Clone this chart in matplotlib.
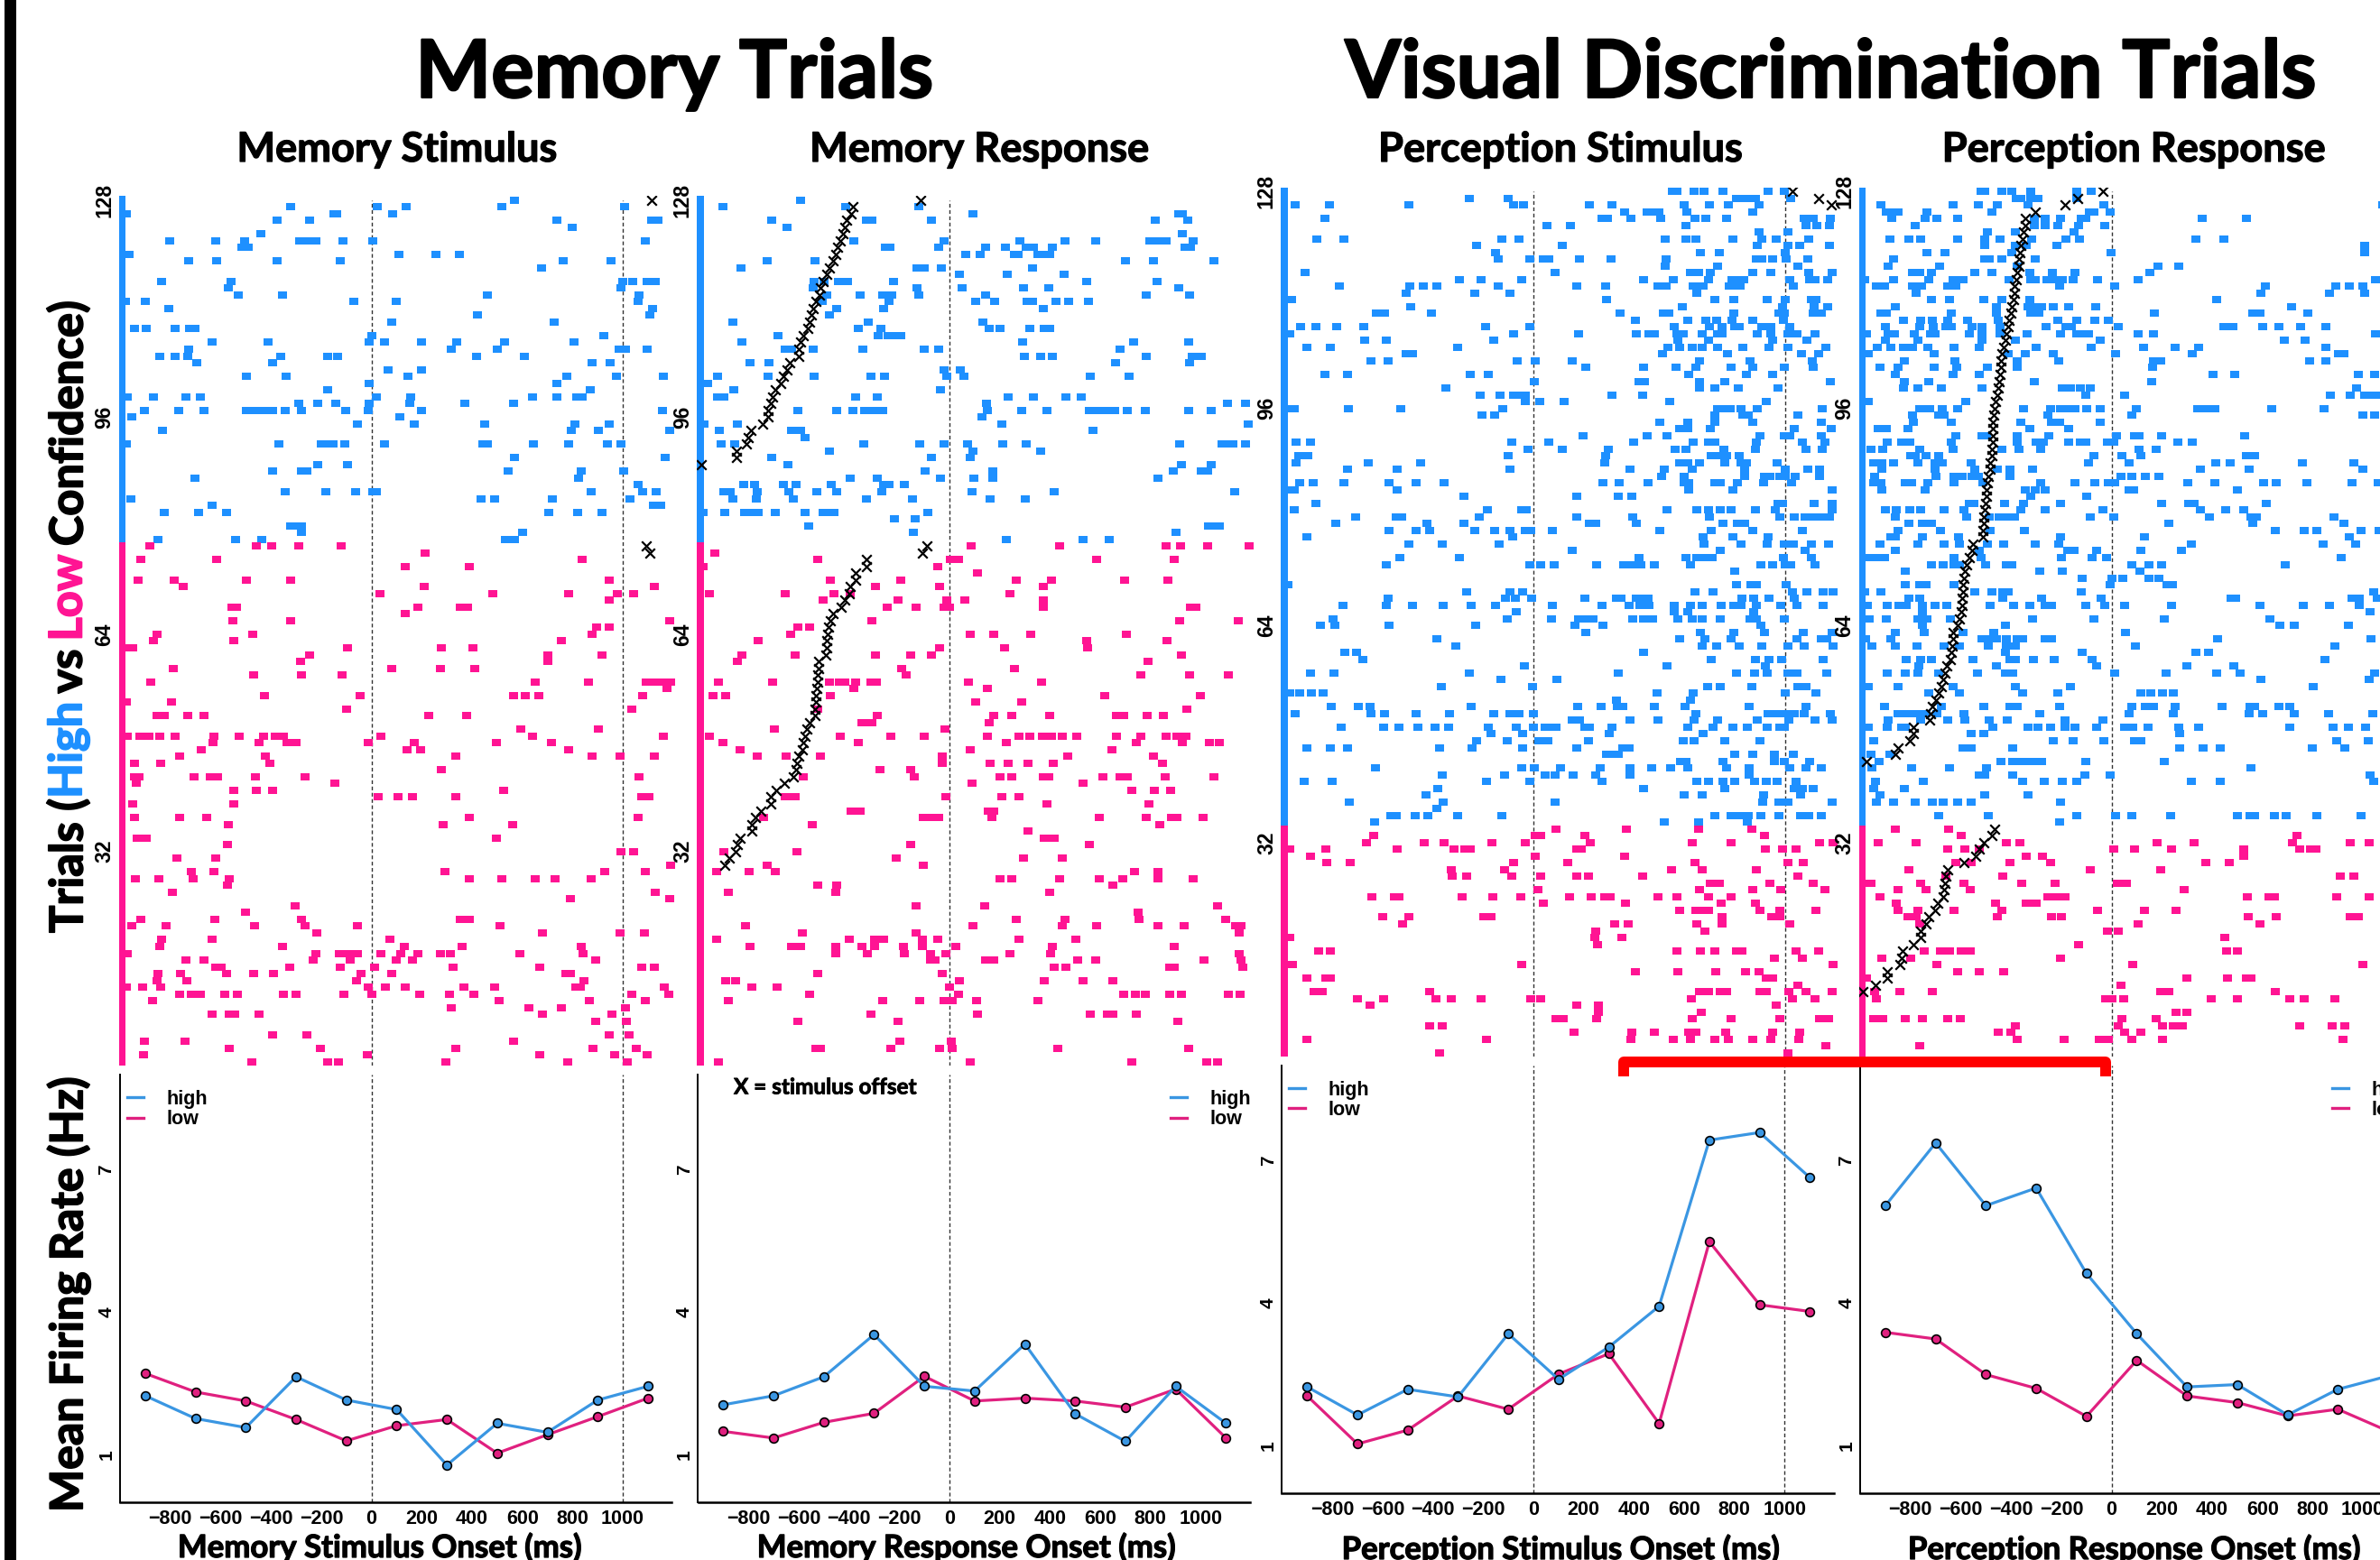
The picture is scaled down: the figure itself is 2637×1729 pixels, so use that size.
import matplotlib
matplotlib.use("Agg")
import matplotlib.pyplot as plt
import matplotlib.patheffects as pe
from matplotlib.lines import Line2D
from matplotlib.patches import Rectangle

W, H = 2637, 1729

BLUE = "#1e90ff"
PINK = "#ff1493"
LINE_BLUE = "#3a96e2"
LINE_PINK = "#e0207f"

# firing rate curves, bin centres in ms, rates in Hz
bin_ms = [-900, -700, -500, -300, -100, 100, 300, 500, 700, 900, 1100]
mem_stim_high = [2.24, 1.76, 1.57, 2.64, 2.15, 1.95, 0.78, 1.66, 1.47, 2.15, 2.44]
mem_stim_low = [2.71, 2.32, 2.13, 1.74, 1.29, 1.61, 1.74, 1.03, 1.42, 1.80, 2.19]
mem_resp_high = [2.05, 2.24, 2.64, 3.53, 2.44, 2.34, 3.33, 1.86, 1.28, 2.44, 1.66]
mem_resp_low = [1.49, 1.35, 1.68, 1.87, 2.65, 2.13, 2.19, 2.13, 2.00, 2.38, 1.35]
per_stim_high = [2.23, 1.64, 2.18, 2.02, 3.35, 2.39, 3.07, 3.93, 7.43, 7.59, 6.64]
per_stim_low = [2.04, 1.03, 1.32, 2.04, 1.76, 2.50, 2.93, 1.46, 5.29, 3.96, 3.82]
per_resp_high = [6.05, 7.37, 6.05, 6.42, 4.62, 3.35, 2.23, 2.28, 1.64, 2.18, 2.46]
per_resp_low = [3.38, 3.24, 2.49, 2.20, 1.61, 2.79, 2.04, 1.90, 1.62, 1.76, 1.30]

# stimulus offset per trial (ms)
mem_stim_offset = {128: 1115, 77: 1092, 76: 1109}
mem_resp_offset = {128: -115, 127: -385, 126: -390, 125: -408, 124: -417, 123: -425, 122: -434, 121: -444,
    120: -453, 119: -462, 118: -476, 117: -488, 116: -503, 115: -515, 114: -518, 113: -533, 112: -541,
    111: -548, 110: -556, 109: -564, 108: -582, 107: -594, 106: -598, 105: -601, 104: -635, 103: -647,
    102: -662, 101: -672, 100: -692, 99: -704, 98: -710, 97: -722, 96: -722, 95: -745, 94: -790, 93: -801,
    92: -807, 91: -848, 90: -848, 89: -987, 77: -91, 76: -107, 75: -332, 74: -332, 73: -375, 72: -375,
    71: -394, 70: -397, 69: -415, 68: -432, 67: -462, 66: -473, 65: -480, 64: -483, 63: -487, 62: -490,
    61: -493, 60: -521, 59: -521, 58: -524, 57: -526, 56: -527, 55: -530, 54: -532, 53: -536, 52: -536,
    51: -556, 50: -568, 49: -576, 48: -583, 47: -586, 46: -601, 45: -607, 44: -609, 43: -620, 42: -656,
    41: -690, 40: -710, 39: -710, 38: -749, 37: -772, 36: -787, 35: -787, 34: -833, 33: -843, 32: -851,
    31: -876, 30: -893}
per_stim_offset = {128: 1031, 127: 1134, 126: 1184}
per_resp_offset = {128: -33, 127: -135, 126: -185, 125: -304, 124: -343, 123: -345, 122: -350, 121: -354,
    120: -360, 119: -364, 118: -367, 117: -368, 116: -374, 115: -379, 114: -385, 113: -388, 112: -391,
    111: -398, 110: -402, 109: -407, 108: -413, 107: -417, 106: -421, 105: -431, 104: -438, 103: -439,
    102: -442, 101: -445, 100: -447, 99: -450, 98: -455, 97: -462, 96: -467, 95: -470, 94: -471, 93: -471,
    92: -473, 91: -474, 90: -475, 89: -477, 88: -482, 87: -485, 86: -491, 85: -493, 84: -498, 83: -498,
    82: -500, 81: -506, 80: -510, 79: -510, 78: -512, 77: -512, 76: -552, 75: -556, 74: -567, 73: -577,
    72: -584, 71: -587, 70: -591, 69: -591, 68: -594, 67: -595, 66: -598, 65: -607, 64: -614, 63: -631,
    62: -632, 61: -635, 60: -639, 59: -642, 58: -656, 57: -664, 56: -670, 55: -678, 54: -688, 53: -699,
    52: -713, 51: -719, 50: -723, 49: -788, 48: -788, 47: -803, 46: -848, 45: -862, 44: -976,
    34: -466, 33: -477, 32: -510, 31: -528, 30: -542, 29: -589, 28: -653, 27: -658, 26: -664, 25: -667,
    24: -670, 23: -691, 22: -702, 21: -726, 20: -737, 19: -761, 18: -761, 17: -788, 16: -830, 15: -834,
    14: -841, 13: -892, 12: -892, 11: -941, 10: -988}

# spike times per trial (ms)
mem_stim_spikes = {
    128: [567], 127: [-320, 23, 139, 520, 1006], 126: [-975, -151, -137, 85],
    125: [-375, -245, 737, 1115, 1138], 124: [799], 123: [-440],
    122: [-804, -620, -505, -286, -252, -221, -113, 5, 1091], 121: [-517, -491],
    120: [-966, 109, 258, 349], 119: [-727, -615, -375, -125, 762, 952], 118: [678],
    116: [-834, -558, 999, 1038, 1095, 1130], 115: [-571, 994], 114: [-530, -355, 461, 1065],
    113: [-978, -899, -70, 97, 1059], 112: [-807, 1118], 111: [420, 1109], 110: [80, 725],
    109: [-943, -896, -780, -724, -701], 108: [2, 925],
    107: [-633, -411, -9, 50, 198, 338, 529, 805], 106: [-727, 317, 499, 985, 1011, 1095],
    105: [-842, -780, -731, -360, -174, -136, 417, 609], 104: [-694, -393, 878, 949], 103: [66, 198],
    102: [-497, -341, 144, 778, 976, 1160], 101: [-9, 736], 100: [-174, 869],
    99: [-972, -866, -739, -680, 18, 157, 642, 736, 817, 837],
    98: [-289, -213, -142, -8, 154, 373, 564],
    97: [-902, -768, -666, -497, -474, -452, -429, -393, -345, -277, -103, -14, 198, 1156],
    96: [-952, 113], 95: [-56, 171, 450, 811, 944], 94: [-830, 796, 904, 1186],
    92: [-976, -369, -199, -177, -154, -106, 50, 443, 462, 645, 784, 940, 994],
    90: [568, 1170], 89: [-213, -94], 88: [-393, -278, -257, 544, 833, 1005], 87: [-703, 824], 86: [1062],
    85: [-345, -180, -63, 5, 21, 873, 1080, 1133], 84: [-956, 435, 490, 719, 1030], 83: [-633, 1123, 1150],
    82: [-825, -689, -577, 704, 820, 916], 80: [-320, -298, -278], 79: [-277, 601],
    78: [-848, -541, -437, 532, 568],
    77: [-881, -458, -397, -289, -121], 76: [213], 75: [-917, -615, 837], 74: [133, 391],
    72: [-928, -786, -497, -323, 944], 71: [-748, 210, 1127], 70: [35, 484, 784, 979, 1041], 69: [947],
    68: [-556, -538, 183, 354, 381], 67: [136], 66: [-553, -323, 1186], 65: [896, 944],
    64: [-852, -473, 876], 63: [-869, -547, 755], 62: [-967, -949, -94, 277, 403], 61: [-246, 700, 916],
    60: [-283, 700], 59: [-790, 79, 275, 412], 58: [-470, -277, -116],
    57: [-879, 650, 863, 1092, 1123, 1153, 1190], 56: [1176], 55: [-425, -45, 565, 613, 665, 1080],
    54: [-976, -795], 53: [-98, 1035], 52: [-854, -823, -731, -666, 228, 379], 50: [594, 904],
    49: [-970, -920, -884, -842, -780, -627, -526, -431, -384, -351, 38, 642, 1163],
    48: [-629, -447, -335, -299, -14, 171, 497, 716], 47: [-678, 141, 195, 784],
    46: [-763, -422, 337, 876, 988, 1127], 45: [-943, -839, -405], 44: [278],
    43: [-943, -926, -707, -642, -612, -461, -266, 1065], 42: [-934, -145], 41: [-547, -458, -393, 524],
    40: [27, 106, 162, 334, 1074, 1105], 39: [-950, -547], 37: [-944, -763, -657, 388, 1059],
    36: [-568, 286, 562], 34: [-932, -914, -896, 496], 33: [-574], 32: [994, 1041], 31: [-775, -620],
    30: [1190], 29: [-718, -627, 293, 928, 1091],
    28: [-938, -845, -709, -565, 391, 518, 650, 731, 873], 27: [-573], 26: [-792, 1129], 25: [793, 1186],
    24: [-304], 23: [-500], 22: [-917, -623, -280, 352, 391], 21: [-955, -817, -467, -266, -57, 512],
    20: [-216, 681, 988, 1085], 19: [-834, -633, 73], 18: [-842, -354, 130, 361, 836],
    17: [-970, -222, -127, -92, -56, 38, 115, 183, 275, 314, 592, 842],
    16: [-737, -666, -231, -86, 97, 162, 893], 15: [-618, -598, -325, -124, 11, 325, 671, 1074, 1127],
    14: [-848, -760, -576, -470, -390, -41, 82, 772, 790], 13: [-854, -734, -59, 845],
    12: [-976, -911, -839, -14, 57, 134, 369, 490, 813, 831, 1166],
    11: [-765, -718, -680, -583, -533, -351, -301, -109, 2, 192, 311, 406, 1037, 1183],
    10: [-870, 506, 867, 1088], 9: [316, 627, 755, 1011], 8: [-633, -565, -545, -446, 680, 955],
    7: [893, 1015], 5: [-393, -257, 946, 1026], 4: [-902, -743, 564], 3: [-565, -204, 335, 882, 1053],
    2: [-908, -15, 668, 966, 1097], 1: [-476, -175, -133, 296, 781, 1018],
}

mem_resp_spikes = {
    128: [-594], 127: [-901, -412, -121], 126: [94, 913, 928], 125: [-709, -332, -310, -73, 817, 947],
    124: [-648], 123: [926], 122: [-379, -23, 280, 459, 580, 796, 831, 863, 969],
    121: [-255, -236, -42, 145, 221, 305, 334, 411, 937, 958], 120: [63, 121, 260, 273, 351, 373, 399],
    119: [-727, -536, 700, 813, 1052], 118: [-830, -131, -101, -32, 332], 117: [38, 231, 455],
    116: [-538, -499, -440, -406, -222, 545, 825], 115: [-541, -131, 50, 296, 396, 913],
    114: [-488, -354, -266, -230, -122, 142, 783, 955], 113: [-506, -242, 103, 180, 308, 331, 425, 473, 553],
    112: [-449, -263, 372], 111: [-479], 110: [-861, -323, 133], 109: [-364, -273, 159, 202, 319, 376, 400],
    108: [-684, -284, -245, -222, -195], 107: [-825, 292, 734, 953],
    106: [-654, -627, -541, -346, -100, -44, 678], 105: [299, 361, 409, 781, 966, 1002],
    104: [-793, -719, 659, 956], 103: [-20, 44], 102: [-922, -721, -538, -314, -257, -11, 59, 559, 715],
    101: [-963], 100: [-857, -36], 99: [-922, -899, -373, -289, 233, 335, 464, 523], 98: [148, 1105, 1179],
    97: [-603, -449, -385, -338, -311, -289, -267, 151, 286, 388, 555, 577, 600, 623, 657, 709, 778, 952, 1041],
    96: [130], 95: [-976, -845, 207, 1188], 94: [-916, -630, -592, 571], 93: [-573],
    92: [-907, -855, -341, -118, -20, 71, 213, 305, 914, 1083, 1106, 1129, 1179], 91: [-479, 95, 361],
    90: [-709, -73, 82], 89: [-641, 922, 1041], 88: [-97, 172, 890, 1003, 1026],
    87: [-394, -287, -36, 97, 172, 831], 86: [-820, -777, -660, -609, -471, -261, -239, -178],
    85: [-896, -873, -765, -638, -529, -449, -269, 89, 416, 1133], 84: [-863, -769, -620, -329, -148, 163, 302],
    82: [-979, -895, -814, -783, -760, -692, -573, -503, -480, -458, -86], 81: [-219, -138],
    80: [-561, 1030, 1053, 1073], 79: [-145, 902], 78: [225, 532, 635],
    77: [86, 437, 860, 920, 1027, 1192], 76: [-934], 75: [-523, 3, 36, 586, 894], 74: [-979, -48], 73: [110],
    72: [-474, -195, 267, 406, 695, 870], 71: [-293, -39, 372], 70: [-955, -654, -459, -395, 242],
    69: [-502, -204, -12, 62, 372], 68: [-249, -134, -23, 0, 372, 959, 982], 66: [-308, 917, 1148],
    65: [-603, -555], 64: [-633, 82, 175, 323, 704], 63: [-763, 545, 867], 62: [-38, 219, 550],
    61: [-827, -615, -296, -153, -73, 923], 60: [-843, 790], 59: [-190, 258], 58: [-171, 762, 954, 1111],
    57: [-920, -704, -477, -438, -417, -372, -311, -290, 77, 366], 56: [-382, 150],
    55: [-940, -890, -474, 617, 997], 54: [103, 286], 53: [-524, 943],
    52: [-289, 175, 246, 400, 663, 694, 787, 851], 51: [-349, -329, -310, 157], 50: [-695, -17],
    49: [-955, -434, -234, -100, 151, 275, 320, 369, 405, 449, 508, 663, 763, 860, 905, 940],
    48: [-901, -361, 228, 743, 925, 1034, 1074], 47: [-833, 82, 645], 46: [-766, -650, -514, -29, 470, 810],
    45: [-29, 163, 234, 311, 414, 848], 44: [-275, -153],
    43: [-583, -140, 202, 246, 375, 396, 612, 677, 707, 857, 1052], 42: [91, 532], 41: [727, 814, 878],
    40: [-654, -633, -615, -15, 207, 276], 39: [388, 792], 38: [-393, -356, 154, 177],
    37: [-740, -103, -73, -42, 169, 595, 781, 882, 904, 1009], 36: [-544, 837], 35: [311],
    34: [378, 397, 416], 33: [-156, 556], 32: [-896, -606], 31: [-212, 295, 450], 30: [-724, -104],
    29: [-926, -796, -692, 736, 828], 28: [202, 246, 437, 597, 690, 828, 968], 27: [-526, -450, 651],
    26: [-881, -453, 400], 24: [-134, 139, 1067], 23: [752], 22: [264, 458, 754, 1097],
    21: [-811, 94, 449, 586, 829, 935, 1138, 1159], 20: [-586, -133, 1151],
    19: [-926, -400, -299, -263, -106, -48, 275, 503],
    18: [-793, -630, -591, -452, -349, -298, -183, -106, 26, 408, 894],
    17: [-452, -325, -181, -74, -14, 240, 402, 1154], 16: [-76, -57, 142, 175, 509, 580, 1014, 1160],
    15: [417, 462, 875, 893, 1166], 14: [-526, -30], 13: [-891, -852, 38, 378, 532, 650], 12: [-787, -686, 0],
    11: [-555, 36, 694, 739, 780, 875, 923, 1108, 1156], 10: [-879, -266, -118, -20, 11, 109, 351],
    8: [-311, 112, 559, 629, 650, 745], 7: [-603, -204, 908], 4: [-198, 8],
    3: [-533, -514, -234, -39, 11, 432, 953], 1: [-919, 83, 724, 1024, 1068],
}

per_stim_spikes = {
    128: [552, 572, 639, 678, 754, 935, 997], 127: [-256, -100, 807, 820, 855, 885, 1024],
    126: [-947, -813, -494, -79, -39, 223, 312, 598, 700, 776, 897], 125: [361, 453, 477, 499, 612, 871],
    124: [-829, 274, 293, 388, 505, 642, 687, 767, 1077, 1114, 1181], 123: [53, 146, 608, 1083, 1126, 1178],
    122: [897, 1011], 121: [-863, -753, -126, -56, 523, 608, 647, 793, 907, 966, 1094],
    120: [-227, 114, 891, 1011, 1058, 1178], 119: [-150, 664, 740, 1003],
    118: [-139, -16, 41, 62, 182, 308, 527, 888, 910, 953, 1006, 1092], 117: [523, 731, 1052],
    116: [-907, 86, 625, 657, 704, 874, 944, 1094, 1187],
    115: [-293, -207, -47, 438, 555, 696, 790, 813, 835, 1019, 1100, 1120, 1170],
    114: [-771, -492, -438, -385, -139, 174, 287, 495, 528, 637, 657, 676, 779, 801, 823, 1033],
    113: [-508, -235, -92, 650], 112: [-961, 290, 721, 796, 929, 1003, 1105, 1125],
    111: [-488, 592, 992, 1116, 1172], 110: [-623, -594, -405, 344, 516, 539, 798, 977, 999, 1112, 1147],
    109: [404, 615, 687, 729, 790, 872, 994],
    108: [-927, -866, -781, -675, -192, -16, 561, 700, 751, 801, 820, 907, 944, 1019],
    107: [-968, -78, 179, 411, 458, 481, 570, 595, 673, 734, 751, 891, 944, 1011, 1048, 1120],
    106: [-670, -586, -157, 575, 698, 953, 1089],
    105: [-901, -807, -301, 534, 583, 633, 672, 732, 834, 938, 1013, 1165],
    104: [-505, -480, 514, 773, 1067, 1134], 103: [-645, -578, -65, 8, 154, 659, 862, 1108],
    102: [209, 438, 567, 648, 785, 874, 997, 1114], 101: [-829, -740, -252, -181, 619, 848, 950],
    100: [3, 419, 442, 662, 760, 1181], 99: [-349, 662, 720, 816, 974], 98: [-212, -134, -79, -56, -34, 312, 435],
    97: [-31, 26, 123, 542, 925], 96: [-972, -952, -737, -528, -122, 732, 757, 782, 827, 890, 1150],
    95: [-203, -153, 723, 832, 855, 1052], 94: [503, 615, 723, 872, 1147], 93: [583, 615, 703, 1038, 1184],
    92: [199, 452, 530, 902, 997, 1019, 1144], 91: [-946, -887, -87, 61, 397, 637, 696, 723, 888, 1070, 1159],
    90: [-22, 115, 299, 564, 608, 757, 885, 1083, 1150], 89: [-932, -897, -100, 287, 707, 731, 767, 820],
    88: [-946, -656, -450, 282, 583, 615, 662, 760, 826, 848, 968],
    87: [-740, -542, -92, 383, 522, 631, 841, 1002, 1092, 1140],
    86: [509, 598, 840, 918, 941, 982, 1003, 1042, 1137],
    85: [-929, -876, -754, -575, -467, -357, 277, 340, 456, 598, 619, 723, 745, 812, 914, 1027],
    84: [-972, -952, -541, 619, 793, 1187], 83: [-277, 174, 337, 393], 82: [-866, 972, 991, 1117, 1187],
    81: [-953, -184, -48, -28, 533, 650, 696, 745, 788, 882, 961, 1187],
    80: [-706, -547, -523, -217, 171, 396, 700, 980, 1036, 1080, 1112, 1140, 1159, 1178],
    79: [-785, -425, -277, 224, 248, 410, 753, 813, 840],
    78: [-576, -466, -413, -235, -154, -92, -34, -12, 76, 503, 706, 871, 1069],
    77: [-902, -84, 676, 793, 935], 76: [-494, -363, -136, 679, 827, 930, 999, 1033, 1105, 1173],
    75: [156, 745, 1081], 74: [-531, -294, 419, 606, 650, 687, 710, 996, 1105],
    73: [-586, -14, 30, 84, 251, 358, 393, 428, 481, 626, 905, 953, 1000, 1022, 1122], 72: [801],
    70: [-975, 807, 866, 886, 1005], 69: [-266, -93, -44, 642, 715, 1031, 1089, 1154, 1193],
    68: [-578, -111, -72, -8, 203, 329, 349, 408, 432, 455, 829, 876, 936, 1036],
    67: [-759, -587, -481, -360, -249, -151, 76, 273, 379, 422, 458, 559, 623, 671, 748, 796, 827, 886, 983, 1047, 1154],
    66: [-69, 559, 615, 876],
    65: [-798, -104, 73, 178, 213, 237, 394, 439, 475, 575, 632, 670, 742, 863, 886, 997],
    64: [-846, -791, -576, -231, 165, 276, 904], 63: [210, 664, 798, 919, 1073, 1190],
    62: [-385, 581, 684, 787, 1049, 1147, 1167], 61: [-310, 673, 729, 818, 907, 1014, 1078, 1192],
    60: [-752, -703, 438], 59: [-679, 707, 883, 936, 986, 1151], 58: [-37, 530, 922],
    57: [-886, -793, -256, 336, 807, 879, 929, 1011, 1047, 1167], 56: [-129, 92],
    55: [-368, -5, 693, 745, 868, 1053, 1084], 54: [-968, -929, -882, -838, 491, 637, 1003, 1123], 53: [330, 625],
    52: [-804, -696, -651, -246, 176, 270, 333, 357, 481, 603, 858, 1083],
    51: [-949, -648, -594, -467, -335, -157, -92, -56, 0, 647, 932, 968, 1000, 1038, 1077, 1183],
    50: [154, 182, 383, 497, 640, 734, 890, 1017, 1122, 1189],
    49: [-765, -597, -534, -461, -391, -337, -178, -69, 0, 45, 69, 89, 204, 224, 312, 615, 714, 793, 851, 930, 980, 997],
    48: [-167, -42, 301, 676], 47: [-226, -103, 20, 59, 218, 595, 640, 763, 902],
    46: [-901, -807, -740, -374, -243, -44, 174, 357, 380], 45: [291, 315, 337, 801, 871, 957, 1033],
    44: [586, 606, 754, 957, 997, 1097],
    43: [-629, -48, 5, 107, 266, 383, 469, 547, 615, 767, 858, 1020, 1083, 1144],
    42: [-363, -114, 48, 87, 159, 249, 383, 858],
    41: [-911, -799, -185, -16, 274, 651, 696, 754, 801, 880, 925, 969, 1045],
    40: [-379, 438, 760, 1039, 1070, 1114], 39: [-428, 600, 670, 914, 1063],
    38: [-731, -360, 87, 911, 975, 996, 1014, 1187], 37: [-385],
    36: [-567, -547, -471, -421, -301, -125, 723, 788, 809, 835, 855, 904, 975, 1063, 1094, 1147],
    35: [-631, 520, 656, 852],
    34: [89, 371, 656, 868], 33: [-634, 6, 30, 206, 921],
    32: [-665, -436, -357, -164, -34, 227, 631, 785, 1140, 1192],
    31: [-971, -826, -541, -316, -274, -251, 174, 190, 922, 991, 1045], 30: [-886, 8, 361],
    29: [-823, -728, -78, 137, 643, 1011, 1072], 28: [-326, -115, 551, 673, 888],
    27: [-323, -266, -86, 28, 174, 220, 433, 1052], 26: [704, 740, 941, 1114], 25: [17, 659, 871, 985, 1159],
    24: [-642, -553, -534, -282, -160, -51, 143, 231, 284, 307, 497, 570, 696, 788],
    23: [41, 368, 748, 883], 22: [583, 645, 664, 696, 902, 980, 1125], 21: [-601, -494, -196, -168, 751, 949, 982],
    20: [-519, 322, 377, 650, 751, 1020], 19: [248, 684], 18: [-971, 245, 351], 17: [254],
    16: [-854, -807, 570, 665, 721, 809, 829, 1044, 1134], 15: [957, 1070], 14: [-975, -960, -48, 1193],
    13: [407, 576, 724, 843, 896], 12: [-902, -827, -809, 925, 953], 11: [1052],
    10: [-872, -841, -414, 659, 696, 742, 767, 902, 925, 1017, 1083, 1187],
    9: [-700, -597, -386, -327, -209, -9, 28, 629, 1031, 1120], 8: [-651, 173, 260, 966], 7: [257, 668],
    6: [89, 118, 251, 631, 785, 982, 1140, 1175], 5: [-414, -361], 4: [160, 390, 481, 619, 645, 765, 950, 1058],
    3: [-902, -185, 386, 556, 626, 721, 776, 874, 944, 1055], 2: [1162], 1: [-375, 1011],
}

per_resp_spikes = {
    128: [-521, -505, -436, -398, -320, -139, -81], 127: [-379, -361, -320, -292, -139],
    126: [-917, -632, -531, -455, -334, -31, 1079],
    125: [-897, -878, -848, -734, -475, -90, -72, -4],
    124: [-876, -741, -695, -614, -306, -265, -202, -122, -104, 361, 535],
    123: [-783, -306, -264, -215, -132, -28], 122: [-493, -381, -149],
    121: [-883, -805, -760, -614, -505, -443, -317, -182, -128, 334, 445], 120: [-505, -381, -339, -217, 1008],
    119: [-734, -664, -398, -3, 1008], 118: [-866, -505, -487, -438, -302], 117: [-890, -684, -375, 186, 268],
    116: [-792, -765, -716, -546, -475, -327, -234, -146, 153],
    115: [-983, -869, -727, -632, -612, -591, -407, -320, -303, -257, -222, -195, -153, -56, 104, 1049],
    114: [-934, -903, -792, -757, -653, -621, -206, 14, 612, 891, 947, 1001], 113: [-778, 594, 865, 1008],
    112: [-717, -644, -510, -435, -327, 417],
    111: [-859, -459, -334, -316, -278, -231, -172, -64, 717],
    110: [-917, -897, -637, -459, -320, -289, 171, 563, 591, 781],
    109: [-828, -758, -713, -653, -573, -452, -215, -139, -67, -14],
    108: [-901, -765, -709, -660, -639, -556, -514, -445, -260, -181, -160, 28, 445, 484, 600, 664, 751, 853],
    107: [-976, -890, -865, -784, -720, -702, -566, -514, -445, -336, -203, -139, -122, -92, 107, 165, 1051],
    106: [-899, -771, -514, -382, -44, 688, 771],
    105: [-931, -878, -828, -791, -731, -627, -525, -299, -81, 128, 254, 345, 851],
    104: [-969, -706, -413, -345, -232, 15, 320, 904, 924],
    103: [-823, -623, -375, -210, 167, 195, 787, 853], 102: [-923, -848, -706, -616, -493, -375, 164],
    101: [-859, -632, -528, 403, 491, 980, 1047], 100: [-824, -727, -307, 158],
    99: [-828, -770, -676, -516, -197, -163, -125, -83, 973], 98: [-104, 51, 870, 949, 1008, 1029, 1049],
    97: [-969, -582],
    96: [-765, -744, -723, -673, -612, -350, -243, -202, -181, -146, -100, -44, 97, 341, 361, 382, 410, 637, 844],
    95: [-792, -687, -667, -253, 82, 998, 1045], 94: [-788, -637, -361, -239, -222, -206, -46],
    93: [-927, -897, -809, -325, -170],
    92: [-619, -517, -498, -375, -250, 21, 90, 108, 199, 530],
    91: [-892, -834, -803, -639, -375, -299, -271, -170, -125, -104, -17, 7, 265, 322],
    90: [-956, -910, -765, -632, -436, -368, -281, 108, 178],
    89: [-799, -781, -737, -688, -72, 40, 118, 538, 570],
    88: [-945, -915, -866, -771, -702, -674, -560, -93, 68, 416, 473, 760, 965],
    87: [-915, -702, -545, -455, -403, -314, 352, 549, 999],
    86: [-942, -699, -626, -595, -556, -531, -403, 38, 79, 136, 189],
    85: [-948, -917, -820, -796, -730, -627, -512, -281, -147, -67, -14, 14, 303, 411, 605, 656, 778, 956, 1059],
    84: [-915, -741, -345, -303, -264, 70, 86, 500], 83: [-320, -99],
    82: [-566, -549, -425, -350, -202, 199, 306, 327, 616],
    81: [-899, -856, -803, -760, -667, -587, -361, -263, -33, 352, 455, 525],
    80: [-862, -578, -487, -449, -424, -403, -386, -86, 7, 389, 553, 577, 883],
    79: [-806, -751, -716, 229, 563, 926], 78: [-848, -681, -482, -346, 653, 766, 817, 994, 1063],
    77: [-878, -862, -753, -609, -202, 131, 945],
    76: [-922, -771, -667, -605, -493, -431, -302, -211, 316, 841, 972],
    75: [-862, -525, -174, -149, -60, 115, 278], 74: [-969, -938, -917, -903, -626, -521, -199, -76, -21, 913],
    73: [-717, -669, -626, -605, -503, -417, -396, 79, 150, 199, 692], 72: [-820, -285, -197, 114],
    71: [-118, 0, 44, 150, 189], 70: [-821, -765, -737, -626, -7, 222, 243],
    69: [-984, -916, -545, -475, -434, -410, -121, 1043],
    68: [-806, -765, -434, -278, -42, 475, 493, 955, 987, 1056],
    67: [-973, -892, -845, -817, -753, -702, -657, -485, -391, -324, -264, -239, -101, -28, 51, 239, 592, 763, 867, 987],
    66: [-751, 1029], 65: [-966, -897, -771, -753, -734, -642, -314, -71, 211, 631],
    64: [-753, -423, 670, 726, 941], 63: [-862, -744, -591, -470, 56],
    62: [-980, -878, -514, -494, -473, -459, -417, -375, -354, -264, -239, 423, 1031],
    61: [-954, -862, -774, -667, -605, -489, -417, -382, 95, 888], 60: [-424, -118, 336, 385],
    59: [-819, -760, -716, -550, -403, -382, -311, -228, -78, 849], 58: [-767, -457, -58, 300, 487],
    57: [-894, -820, -771, -688, -534, -424, -392, 13, 217, 417, 510, 1047], 56: [595, 1026],
    55: [-969, -848, -632, -381, -164, 801], 54: [-726, -605, -354, -215, 118, 156, 204, 247],
    52: [-904, -678, -510, -403, -375, -206, 79, 136, 168, 252, 441, 552, 570, 664, 710],
    51: [-848, -827, -803, -769, -737, -695, -587, -285, 70, 247, 548, 600, 727, 862, 1040],
    50: [-890, -758, -653, -584, -487, -414, -185, -35],
    49: [-969, -894, -834, -820, -473, -334, -292, -243, -185, -145, -58, 53, 83, 145, 268, 345, 708, 880, 941, 1011],
    48: [-559, -510, 271], 47: [-948, -231, -154, -31, 90, 118, 897, 1022],
    46: [-591, -560, -393, 272, 364, 431, 798, 929], 45: [-959, -883],
    44: [-924, -442, -393, -359, -320, -299, -278, -101, 211], 43: [-955, -794, -645, -498, 555],
    42: [-528, -505, -393, -108, -7, 1029], 41: [-938, -749, -354, -268, -197, -139, 318, 431, 1043],
    40: [-948, -823], 39: [-920, -505, -332], 38: [-937, -869, -783, -712, -671, -612, -559, -202],
    36: [-689, -491, -139, 17, 79, 234, 502, 552, 570, 646, 695, 815, 992], 35: [-207],
    34: [-860, -648], 33: [-599, 738], 32: [-927, -776, -418, -364, 181, 328, 720, 949, 1026],
    31: [-651, -584, -528, 8, 92, 239, 524, 747, 792, 813], 30: [-338, -274, 524],
    29: [-621, -559, -403, -242, 374, 468], 28: [-806, -86, 196], 27: [-658, -434, 910, 965],
    26: [-973, -959, -760, -589, -357, -225, 24, 58], 25: [-848, -737, -562, 288],
    24: [-922, -252, -222, -202, -185, 539, 626, 646, 897, 1024], 23: [-856, -461, -341, -320, -299],
    22: [-850, -771, -627, -436, -56, 131, 257], 21: [-809, -776, -456, -238, -200, 545, 655, 949, 980],
    20: [-765, 104, 592], 19: [-18, 28], 18: [450], 17: [-132], 16: [-744, -681, -646, -598, -563, 457, 502],
    15: [-915, -799, -203], 14: [-694, 83, 999], 13: [-613, -528, -430], 12: [-977, 300, 460, 535, 553],
    11: [36], 10: [-942, -844, -714, 195, 229, 653], 9: [-937, -24, 0, 49, 396, 500, 708, 767, 887],
    7: [257, 300], 6: [-945, -910, -820, -753, -651, -602, 42, 178],
    5: [-382, 28, 202, 247, 282, 748, 877, 927], 4: [-450, -399, 50, 115],
    3: [-375, -190, -50, -14, 82, 202, 919], 2: [-764],
}

trial_ticks = [32, 64, 96, 128]
rate_ticks = [1, 4, 7]
time_ticks = list(range(-800, 1001, 200))


def px_axes(fig, left, top, right, bottom):
    return fig.add_axes([left / W, 1 - bottom / H, (right - left) / W, (bottom - top) / H])


def heavy(color="black", w=0.9):
    # Lato bold is a bit thin next to the original font
    return [pe.withStroke(linewidth=w, foreground=color)]


def ftext(fig, x, y, s, **kw):
    return fig.text(x / W, 1 - y / H, s, **kw)


def raster(fig, zero_px, top, bottom, spikes, offsets, split, offset_line):
    ax = px_axes(fig, zero_px + XL * MS_PX, top, zero_px + XR * MS_PX, bottom)
    ax.set_xlim(XL, XR)
    ax.set_ylim(0.45, 128.6)
    for trial, times in spikes.items():
        color = BLUE if trial > split else PINK
        ax.scatter(times, [trial] * len(times), s=42, marker=SPIKE_MARK, color=color, linewidths=0, zorder=2)
    ax.fill_between([XL, XL + 27], 0.45, split, color=PINK, lw=0, zorder=3)
    ax.fill_between([XL, XL + 27], split, 128.6, color=BLUE, lw=0, zorder=3)
    ax.axvline(0, color="#333333", lw=1, ls=(0, (3, 2)), ymax=0.995, zorder=1)
    if offset_line:
        ax.axvline(1000, color="#333333", lw=1, ls=(0, (3, 2)), ymax=0.995, zorder=1)
    ax.scatter(list(offsets.values()), list(offsets.keys()), marker="x", s=58, color="black", linewidths=1.6, zorder=4)
    for s in ax.spines.values():
        s.set_visible(False)
    ax.set_xticks([])
    ax.set_yticks(trial_ticks)
    ax.tick_params(axis="y", length=0, pad=3, labelrotation=90)
    for t in ax.get_yticklabels():
        t.set_fontsize(16.5)
        t.set_fontweight("bold")
        t.set_family("Liberation Sans")
        t.set_va("center")
    ax.patch.set_alpha(0)
    return ax


def rates(fig, zero_px, top, bottom, high, low, offset_line, leg_x):
    ax = px_axes(fig, zero_px - 1000 * MS_PX, top, zero_px + 1195 * MS_PX, bottom)
    ax.set_xlim(-1000, 1195)
    ax.set_ylim(0, 9)
    ax.axvline(0, color="#333333", lw=1, ls=(0, (3, 2)), zorder=1)
    if offset_line:
        ax.axvline(1000, color="#333333", lw=1, ls=(0, (3, 2)), zorder=1)
    ax.plot(bin_ms, low, color=LINE_PINK, lw=2.3, marker="o", ms=7, mfc=LINE_PINK, mec="black", mew=1.2, label="low", zorder=3)
    ax.plot(bin_ms, high, color=LINE_BLUE, lw=2.3, marker="o", ms=7, mfc=LINE_BLUE, mec="black", mew=1.2, label="high", zorder=4)
    for name in ["top", "right"]:
        ax.spines[name].set_visible(False)
    ax.spines["left"].set_linewidth(1.4)
    ax.spines["bottom"].set_linewidth(1.8)
    ax.set_xticks(time_ticks)
    ax.set_yticks(rate_ticks)
    ax.tick_params(axis="x", length=0, pad=6)
    ax.tick_params(axis="y", length=0, pad=4, labelrotation=90)
    for t in ax.get_xticklabels() + ax.get_yticklabels():
        t.set_fontweight("bold")
        t.set_family("Liberation Sans")
    for t in ax.get_xticklabels():
        t.set_fontsize(15.5)
    for t in ax.get_yticklabels():
        t.set_fontsize(15)
        t.set_va("center")
    handles = [Line2D([], [], color=LINE_BLUE, lw=2.4), Line2D([], [], color=LINE_PINK, lw=2.4)]
    box = ax.get_position()
    leg = ax.legend(handles, ["high", "low"], loc="upper left", bbox_to_anchor=((leg_x - box.x0 * W) / ((box.x1 - box.x0) * W), 0.965),
                    frameon=False, borderpad=0, borderaxespad=0, handlelength=0.85, handletextpad=1.15, labelspacing=0.05,
                    prop={"family": "Liberation Sans", "weight": "bold", "size": 15.5})
    leg.set_zorder(5)
    ax.patch.set_alpha(0)
    return ax


MS_PX = 0.2785
XL, XR = -1005, 1205
SPIKE_MARK = [(-1, -0.85), (1, -0.85), (1, 0.85), (-1, 0.85)]

fig = plt.figure(figsize=(W / 100, H / 100), dpi=100, facecolor="white")
fig.add_artist(Rectangle((5 / W, 0), 13 / W, 1, transform=fig.transFigure, color="black", lw=0))

raster(fig, 411.6, 217, 1181, mem_stim_spikes, mem_stim_offset, 77.5, True)
raster(fig, 1052, 217, 1181, mem_resp_spikes, mem_resp_offset, 77.5, False)
raster(fig, 1699, 207.5, 1171, per_stim_spikes, per_stim_offset, 34.5, True)
raster(fig, 2339.6, 207.5, 1171, per_resp_spikes, per_resp_offset, 34.5, False)

rates(fig, 411.6, 1191.4, 1664.8, mem_stim_high, mem_stim_low, True, 141)
rates(fig, 1052, 1191.4, 1664.8, mem_resp_high, mem_resp_low, False, 1297)
rates(fig, 1699, 1181, 1654.5, per_stim_high, per_stim_low, True, 1428)
rates(fig, 2339.6, 1181, 1654.5, per_resp_high, per_resp_low, False, 2584)

# bracket between the perception panels
fig.add_artist(Line2D(
    [x / W for x in [1799, 1799, 2333, 2333]], [1 - y / H for y in [1193, 1177, 1177, 1193]],
    transform=fig.transFigure, color="#ff0000", lw=8.6, solid_joinstyle="round", solid_capstyle="butt", zorder=10))

head = dict(family="Lato", weight="bold", ha="center", color="black")
ftext(fig, 747, 108, "Memory Trials", fontsize=64, va="baseline", path_effects=heavy(w=1.6), **head)
ftext(fig, 2028, 108, "Visual Discrimination Trials", fontsize=64, va="baseline", path_effects=heavy(w=1.6), **head)
for x, label in [(440, "Memory Stimulus"), (1085, "Memory Response"), (1729, "Perception Stimulus"), (2364, "Perception Response")]:
    ftext(fig, x, 179, label, fontsize=32.5, va="baseline", path_effects=heavy(), **head)
for x, y, label in [(421, 1726, "Memory Stimulus Onset (ms)"), (1071, 1726, "Memory Response Onset (ms)"),
                    (1729.5, 1728, "Perception Stimulus Onset (ms)"), (2365, 1728, "Perception Response Onset (ms)")]:
    ftext(fig, x, y, label, fontsize=25, va="baseline", path_effects=heavy(), **head)
ftext(fig, 914, 1205, "X = stimulus offset", fontsize=17.5, va="center", path_effects=heavy(w=0.6), **head)
ftext(fig, 76, 1435, "Mean Firing Rate (Hz)", fontsize=36, va="center", rotation=90, family="Lato", weight="bold", ha="center",
      path_effects=heavy(w=1.2))

# multi coloured y label, stacked from the bottom
y_now = 1034
rend = fig.canvas.get_renderer()
for seg, col, gap in [("Trials (", "black", 0), ("High", BLUE, 9), ("vs", "black", 9), ("Low", PINK, 9), ("Confidence)", "black", 0)]:
    t = ftext(fig, 76, y_now, seg, fontsize=36.5, family="Lato", weight="bold", color=col, rotation=90, ha="center", va="bottom",
              path_effects=heavy(col, 1.2))
    y_now -= t.get_window_extent(rend).height + gap

fig.savefig("out.png", dpi=100)
